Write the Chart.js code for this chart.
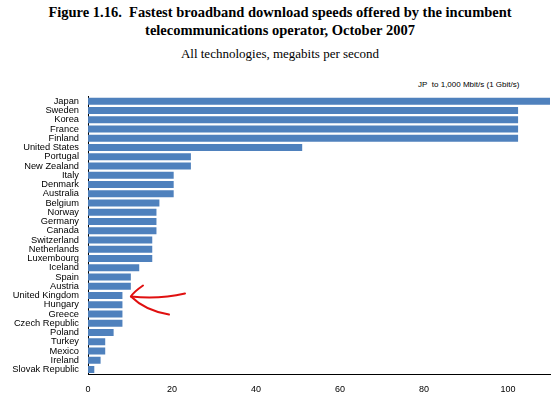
<!DOCTYPE html>
<html><head><meta charset="utf-8">
<script src="https://cdn.jsdelivr.net/npm/chart.js@4"></script>
<style>
body{margin:0;background:#fff;width:560px;height:401px;overflow:hidden;font-family:"Liberation Serif",serif}
h1{margin:3px 0 0;font-size:14.5px;text-align:center;line-height:18px;font-weight:bold}
h2{margin:7px 0 0;font-size:13px;text-align:center;font-weight:normal}
#note{position:absolute;left:418px;top:80px;font:8px "Liberation Sans",sans-serif}
#wrap{position:absolute;left:0;top:86px;width:560px;height:315px}
</style></head><body>
<h1>Figure 1.16.&nbsp; Fastest broadband download speeds offered by the incumbent<br>telecommunications operator, October 2007</h1>
<h2>All technologies, megabits per second</h2>
<div id="note">JP&nbsp; to 1,000 Mbit/s (1 Gbit/s)</div>
<div id="wrap"><canvas id="c" width="560" height="315"></canvas></div>
<script>
// Countries, top to bottom
const countries = ["Japan","Sweden","Korea","France","Finland","United States","Portugal","New Zealand","Italy","Denmark","Australia","Belgium","Norway","Germany","Canada","Switzerland","Netherlands","Luxembourg","Iceland","Spain","Austria","United Kingdom","Hungary","Greece","Czech Republic","Poland","Turkey","Mexico","Ireland","Slovak Republic"];
// Mbit/s (Japan is 1000, clipped at the axis edge)
const speeds = [1000,102.4,102.4,102.4,102.4,51,24.5,24.5,20.4,20.4,20.4,17,16.3,16.3,16.3,15.3,15.3,15.3,12.2,10.2,10.2,8.2,8.2,8.2,8.2,6.1,4.1,4.1,3,1.5];
const xTicks = [0,20,40,60,80,100];

// hand-drawn red arrow pointing at the UK bar
const arrow = {
  id: "arrow",
  afterDatasetsDraw(chart) {
    const {ctx, scales: {x, y}} = chart;
    const yy = y.getPixelForValue(21) + 1;
    const x0 = x.getPixelForValue(10) + 1;
    ctx.save();
    ctx.strokeStyle = "#e01010";
    ctx.lineWidth = 2;
    ctx.lineCap = "round";
    ctx.beginPath();
    ctx.moveTo(x0, yy);
    ctx.quadraticCurveTo(x0 + 28, yy + 3, x0 + 54, yy - 3);
    ctx.stroke();
    ctx.beginPath();
    ctx.moveTo(x0 + 12, yy - 11);
    ctx.quadraticCurveTo(x0 + 2, yy - 4, x0, yy);
    ctx.quadraticCurveTo(x0 + 14, yy + 14, x0 + 38, yy + 18);
    ctx.stroke();
    ctx.restore();
  }
};

new Chart(document.getElementById("c"), {
  type: "bar",
  data: {labels: countries, datasets: [{data: speeds, backgroundColor: "#4f81bd", barPercentage: 0.75, categoryPercentage: 1}]},
  options: {
    indexAxis: "y", responsive: false, animation: false,
    layout: {padding: {left: 0, right: 10, top: 1, bottom: 0}},
    plugins: {legend: {display: false}, tooltip: {enabled: false}},
    scales: {
      x: {min: 0, max: 110, afterBuildTicks: s => { s.ticks = xTicks.map(v => ({value: v})); },
          grid: {display: false, drawTicks: true, tickLength: 4, color: "#000"},
          border: {color: "#000"},
          ticks: {color: "#000", font: {family: "Liberation Sans", size: 9}, padding: 6}},
      y: {afterFit: s => { s.width = 88; },
          grid: {display: false, tickLength: 4, color: "#000"},
          border: {color: "#000"},
          ticks: {autoSkip: false, color: "#000", font: {family: "Liberation Sans", size: 9.3}, padding: 5}}
    }
  },
  plugins: [arrow]
});
</script>
</body></html>
